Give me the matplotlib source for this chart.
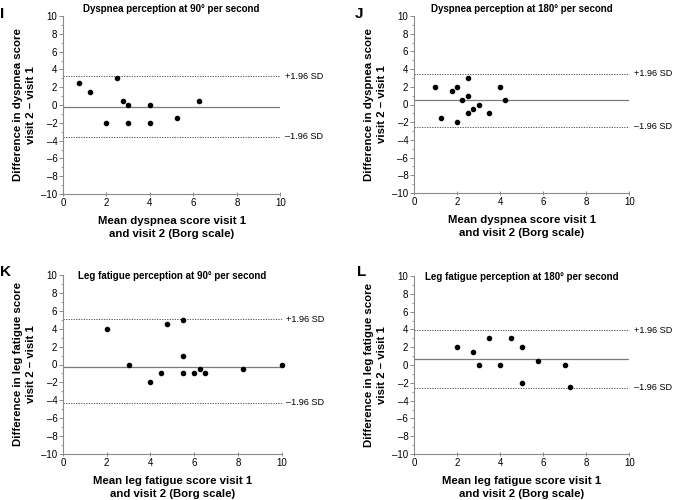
import matplotlib.pyplot as plt
from matplotlib.ticker import MultipleLocator

plt.rcParams['font.family'] = ['Liberation Sans', 'DejaVu Sans']

# panel I: dyspnea, 90 deg/s
i_x = [0.75, 1.25, 2.5, 2.75, 3.0, 4.0, 6.25, 2.0, 3.0, 4.0, 5.25]
i_y = [2.5, 1.5, 3.0, 0.5, 0.0, 0.0, 0.5, -2.0, -2.0, -2.0, -1.5]
i_lines = [3.23, -0.17, -3.57]

# panel J: dyspnea, 180 deg/s
j_x = [1.0, 1.25, 1.75, 2.0, 2.0, 2.25, 2.5, 2.5, 2.5, 2.75, 3.0, 3.5, 4.0, 4.25]
j_y = [2.0, -1.5, 1.5, 2.0, -2.0, 0.5, 3.0, 1.0, -1.0, -0.5, 0.0, -1.0, 2.0, 0.5]
j_lines = [3.47, 0.47, -2.53]

# panel K: leg fatigue, 90 deg/s
k_x = [2.0, 3.0, 4.0, 4.5, 4.75, 5.5, 5.5, 5.5, 6.0, 6.25, 6.5, 8.25, 10.0]
k_y = [4.0, 0.0, -2.0, -1.0, 4.5, 5.0, 1.0, -1.0, -1.0, -0.5, -1.0, -0.5, 0.0]
k_lines = [5.05, -0.25, -4.3]

# panel L: leg fatigue, 180 deg/s
l_x = [2.0, 2.75, 3.0, 3.5, 4.0, 4.5, 5.0, 5.0, 5.75, 7.0, 7.25]
l_y = [2.0, 1.5, 0.0, 3.0, 0.0, 3.0, 2.0, -2.0, 0.5, 0.0, -2.5]
l_lines = [3.93, 0.68, -2.55]

letters = ['I', 'J', 'K', 'L']
titles = ['Dyspnea perception at 90° per second',
          'Dyspnea perception at 180° per second',
          'Leg fatigue perception at 90° per second',
          'Leg fatigue perception at 180° per second']
ylabels = ['Difference in dyspnea score\nvisit 2 – visit 1'] * 2 + \
          ['Difference in leg fatigue score\nvisit 2 – visit 1'] * 2
xlabels = ['Mean dyspnea score visit 1\nand visit 2 (Borg scale)'] * 2 + \
          ['Mean leg fatigue score visit 1\nand visit 2 (Borg scale)'] * 2
yticks = [10, 8, 6, 4, 2, 0, -2, -4, -6, -8, -10]
ytick_labels = ['10', '8', '6', '4', '2', '0', '–2', '–4', '–6', '–8', '–10']
xticks = [0, 2, 4, 6, 8, 10]

fig = plt.figure(figsize=(6.73, 5.0), dpi=100)
rects = [[0.0936, 0.612, 0.323, 0.356],
         [0.615, 0.614, 0.320, 0.354],
         [0.0936, 0.092, 0.325, 0.358],
         [0.615, 0.092, 0.320, 0.356]]
data = [(i_x, i_y, i_lines), (j_x, j_y, j_lines),
        (k_x, k_y, k_lines), (l_x, l_y, l_lines)]
letter_pos = [(0.0, 0.985), (0.527, 0.985), (0.0, 0.47), (0.53, 0.47)]
title_y = [1.025, 1.025, 0.975, 0.975]

spine_c = '#8a8a8a'
for n in range(4):
    ax = fig.add_axes(rects[n])
    xs, ys, lines = data[n]
    ax.set_xlim(0, 10)
    ax.set_ylim(-10, 10)
    ax.axhline(lines[1], color='#7a7a7a', lw=0.9, zorder=1)
    ax.axhline(lines[0], color='#555555', lw=0.7, ls=(0, (1.3, 1.3)), zorder=1)
    ax.axhline(lines[2], color='#555555', lw=0.7, ls=(0, (1.3, 1.3)), zorder=1)
    ax.scatter(xs, ys, s=9, color='black', zorder=3, clip_on=False)
    ax.text(10.2, lines[0], '+1.96 SD', fontsize=6.6, va='center', ha='left')
    ax.text(10.2, lines[2], '–1.96 SD', fontsize=6.6, va='center', ha='left')

    for s in ['top', 'right']:
        ax.spines[s].set_visible(False)
    for s in ['left', 'bottom']:
        ax.spines[s].set_color(spine_c)
        ax.spines[s].set_linewidth(0.8)
    ax.set_yticks(yticks)
    ax.set_yticklabels(ytick_labels)
    ax.set_xticks(xticks)
    ax.yaxis.set_minor_locator(MultipleLocator(1))
    ax.tick_params(axis='y', which='major', length=3, width=0.7, color=spine_c,
                   labelsize=7, pad=1)
    ax.tick_params(axis='y', which='minor', length=1.8, width=0.6, color=spine_c)
    ax.tick_params(axis='x', which='major', direction='inout', length=2.5,
                   width=0.7, color=spine_c, labelsize=7, pad=1.5)

    ax.set_title(titles[n], fontsize=7, fontweight='bold', y=title_y[n], pad=0)
    ax.set_xlabel(xlabels[n], fontsize=8.2, fontweight='bold', labelpad=6,
                  linespacing=1.35)
    ax.set_ylabel(ylabels[n], fontsize=8.2, fontweight='bold', labelpad=4,
                  linespacing=1.3)
    fig.text(letter_pos[n][0], letter_pos[n][1], letters[n], fontsize=11,
             fontweight='bold', va='top', ha='left')

plt.savefig('out.png', dpi=100)
